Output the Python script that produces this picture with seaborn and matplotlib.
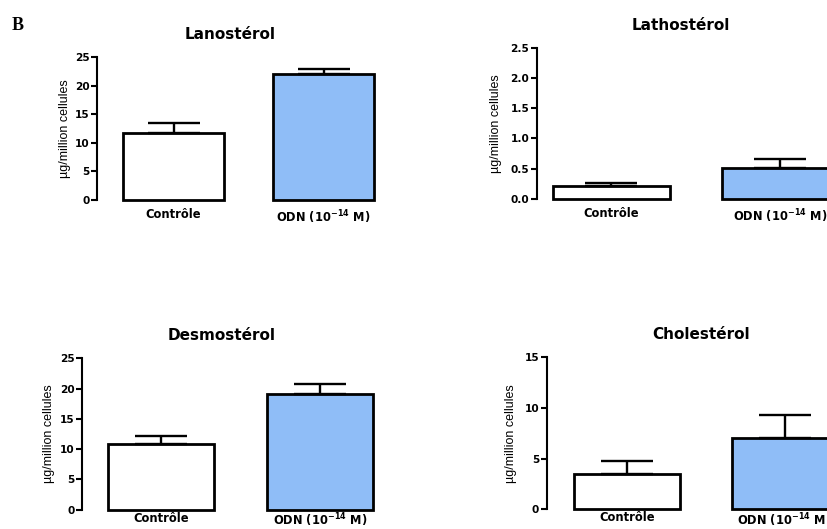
import matplotlib
matplotlib.use("Agg")
import matplotlib.pyplot as plt
import pandas as pd
import seaborn as sns

# ---------------- data ----------------
categories = ["Contrôle", r"ODN (10$^{\mathbf{-14}}$ M)"]
titles = ["Lanostérol", "Lathostérol", "Desmostérol", "Cholestérol"]
lanosterol_mean = [11.7, 22.1]
lanosterol_sem = [1.8, 0.85]
lathosterol_mean = [0.215, 0.52]
lathosterol_sem = [0.045, 0.135]
desmosterol_mean = [10.8, 19.1]
desmosterol_sem = [1.4, 1.65]
cholesterol_mean = [3.45, 7.04]
cholesterol_sem = [1.3, 2.24]
y_ticks = [[0, 5, 10, 15, 20, 25],
           [0.0, 0.5, 1.0, 1.5, 2.0, 2.5],
           [0, 5, 10, 15, 20, 25],
           [0, 5, 10, 15]]
y_fmt = ["{:.0f}", "{:.1f}", "{:.0f}", "{:.0f}"]
y_label = "µg/million cellules"
panel_letter = "B"
bar_colors = ["#FFFFFF", "#8FBDF7"]

means = [lanosterol_mean, lathosterol_mean, desmosterol_mean, cholesterol_mean]
sems = [lanosterol_sem, lathosterol_sem, desmosterol_sem, cholesterol_sem]

# ---------------- layout (pixels) ----------------
W, H = 827, 529
# axis_left_px, unit_px, xlim_left, xlim_right, top_px, bottom_px, bar_width,
# title_x(data), ylabel pad, xtick pad
layout = [
    (97.0, 150.0, -0.51, 1.5, 57.0, 200.0, 0.67, 0.38, 3.0, 6.0),
    (537.0, 169.0, -0.44, 1.5, 47.7, 199.0, 0.69, 0.41, 6.0, 6.0),
    (82.0, 158.5, -0.50, 1.5, 358.3, 509.7, 0.67, 0.38, 3.5, 1.5),
    (546.7, 157.5, -0.51, 1.5, 357.3, 509.3, 0.67, 0.47, 5.0, 1.5),
]

sns.set_theme(style="ticks")
plt.rcParams["font.family"] = ["DejaVu Sans"]
plt.rcParams["font.weight"] = "bold"
plt.rcParams["mathtext.fontset"] = "dejavusans"
plt.rcParams["text.color"] = "black"
plt.rcParams["axes.labelcolor"] = "black"
plt.rcParams["xtick.color"] = "black"
plt.rcParams["ytick.color"] = "black"
plt.rcParams["xtick.labelcolor"] = "black"
plt.rcParams["ytick.labelcolor"] = "black"

fig = plt.figure(figsize=(W / 100, H / 100), dpi=100)
fig.patch.set_facecolor("white")

for i in range(4):
    axl, unit, x0, x1, top, bot, bw, tx, lpad, xpad = layout[i]
    width_px = (x1 - x0) * unit
    ax = fig.add_axes([axl / W, 1 - bot / H, width_px / W, (bot - top) / H])
    ax.set_facecolor("none")
    df = pd.DataFrame({"group": categories, "value": means[i]})
    sns.barplot(data=df, x="group", y="value", hue="group", order=categories,
                hue_order=categories, palette=bar_colors, width=bw,
                edgecolor="black", linewidth=2.0, legend=False, ax=ax,
                saturation=1)
    for p in ax.patches:
        p.set_clip_on(False)
    ax.errorbar([0, 1], means[i], yerr=[[0, 0], sems[i]], fmt="none",
                ecolor="black", elinewidth=1.7, capsize=19, capthick=1.7,
                zorder=1, clip_on=False)
    ax.set_xlim(x0, x1)
    ax.set_ylim(0, y_ticks[i][-1])
    ax.set_yticks(y_ticks[i])
    ax.set_yticklabels([y_fmt[i].format(v) for v in y_ticks[i]],
                       fontsize=7.6, fontweight="bold", color="black")
    ax.set_xticks([0, 1])
    ax.set_xticklabels(categories, fontsize=8.3, fontweight="bold", color="black")
    ax.tick_params(axis="x", length=0, pad=xpad)
    ax.tick_params(axis="y", length=4, width=1.5, pad=1.5, color="black")
    for s in ["top", "right", "bottom"]:
        ax.spines[s].set_visible(False)
    ax.spines["left"].set_linewidth(1.5)
    ax.spines["left"].set_color("black")
    ax.set_xlabel("")
    ax.set_ylabel(y_label, fontsize=9, fontweight="normal", color="black",
                  family=["Liberation Sans", "DejaVu Sans"], labelpad=lpad)
    ax.set_title(titles[i], fontsize=11, fontweight="bold", color="black",
                 x=(tx - x0) / (x1 - x0), pad=13)
    ax.grid(False)

fig.text(12 / W, 1 - 30 / H, panel_letter, fontsize=13, fontweight="bold",
         color="black", family=["Liberation Serif", "DejaVu Serif"],
         ha="left", va="baseline")

fig.savefig("out.png", dpi=100)
